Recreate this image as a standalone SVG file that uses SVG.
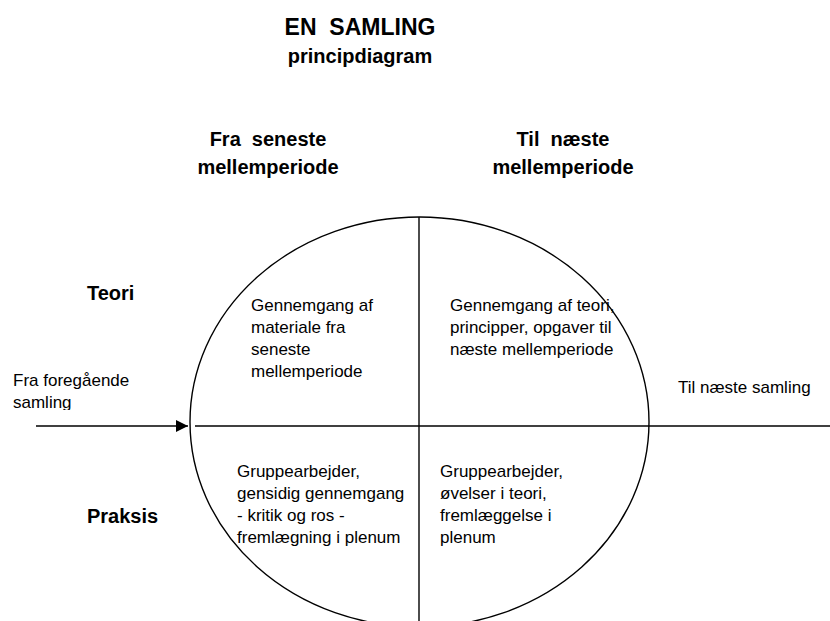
<svg xmlns="http://www.w3.org/2000/svg" width="830" height="621" viewBox="0 0 830 621">
  <style>
    text { font-family: "Liberation Sans", Arial, sans-serif; fill: #000; white-space: pre; }
    .title { font-size: 23px; font-weight: bold; text-anchor: middle; }
    .sub { font-size: 20px; font-weight: bold; text-anchor: middle; }
    .head { font-size: 20px; font-weight: bold; text-anchor: middle; }
    .side { font-size: 20px; font-weight: bold; }
    .body { font-size: 17px; }
    .ln { stroke: #000; stroke-width: 1.4; fill: none; }
  </style>
  <defs>
    <marker id="arrow" viewBox="0 0 12 12" refX="12" refY="6" markerWidth="12" markerHeight="12" markerUnits="userSpaceOnUse" orient="auto">
      <path d="M0,0 L12,6 L0,12 Z" fill="#000"/>
    </marker>
    <clipPath id="clipFrom">
      <rect x="0" y="360" width="180" height="50"/>
    </clipPath>
  </defs>
  <rect width="830" height="621" fill="#fff"/>

  <!-- headings -->
  <g id="title">
    <text class="title" x="360" y="35">EN  SAMLING</text>
    <text class="sub" x="360" y="63">principdiagram</text>
  </g>
  <g id="head-from">
    <text class="head" x="268" y="146">Fra  seneste</text>
    <text class="head" x="268" y="174">mellemperiode</text>
  </g>
  <g id="head-to">
    <text class="head" x="563" y="146">Til  næste</text>
    <text class="head" x="563" y="174">mellemperiode</text>
  </g>
  <g id="row-teori">
    <text class="side" x="87" y="300">Teori</text>
  </g>
  <g id="row-praksis">
    <text class="side" x="87" y="523">Praksis</text>
  </g>

  <!-- the circle of one session, split into four quarters -->
  <g id="session">
    <ellipse class="ln" cx="419.5" cy="422" rx="229.5" ry="205"/>
  </g>

  <g id="connectors">
    <line class="ln" x1="36" y1="426" x2="188" y2="426" marker-end="url(#arrow)"/>
    <line class="ln" x1="195" y1="426" x2="830" y2="426"/>
    <line class="ln" x1="419" y1="217" x2="419" y2="621"/>
  </g>

  <g id="in-label">
    <g clip-path="url(#clipFrom)">
      <text class="body" x="13" y="386">Fra foregående</text>
      <text class="body" x="13" y="408">samling</text>
    </g>
  </g>
  <g id="out-label">
    <text class="body" x="678" y="393">Til næste samling</text>
  </g>

  <g id="q-theory-from">
    <text class="body" x="251" y="311">Gennemgang af</text>
    <text class="body" x="251" y="333">materiale fra</text>
    <text class="body" x="251" y="355">seneste</text>
    <text class="body" x="251" y="377">mellemperiode</text>
  </g>
  <g id="q-theory-to">
    <text class="body" x="450" y="311">Gennemgang af teori,</text>
    <text class="body" x="450" y="333">principper, opgaver til</text>
    <text class="body" x="450" y="355">næste mellemperiode</text>
  </g>
  <g id="q-practice-from">
    <text class="body" x="237" y="477">Gruppearbejder,</text>
    <text class="body" x="237" y="499">gensidig gennemgang</text>
    <text class="body" x="237" y="521">- kritik og ros -</text>
    <text class="body" x="237" y="543">fremlægning i plenum</text>
  </g>
  <g id="q-practice-to">
    <text class="body" x="440" y="477">Gruppearbejder,</text>
    <text class="body" x="440" y="499">øvelser i teori,</text>
    <text class="body" x="440" y="521">fremlæggelse i</text>
    <text class="body" x="440" y="543">plenum</text>
  </g>
</svg>
